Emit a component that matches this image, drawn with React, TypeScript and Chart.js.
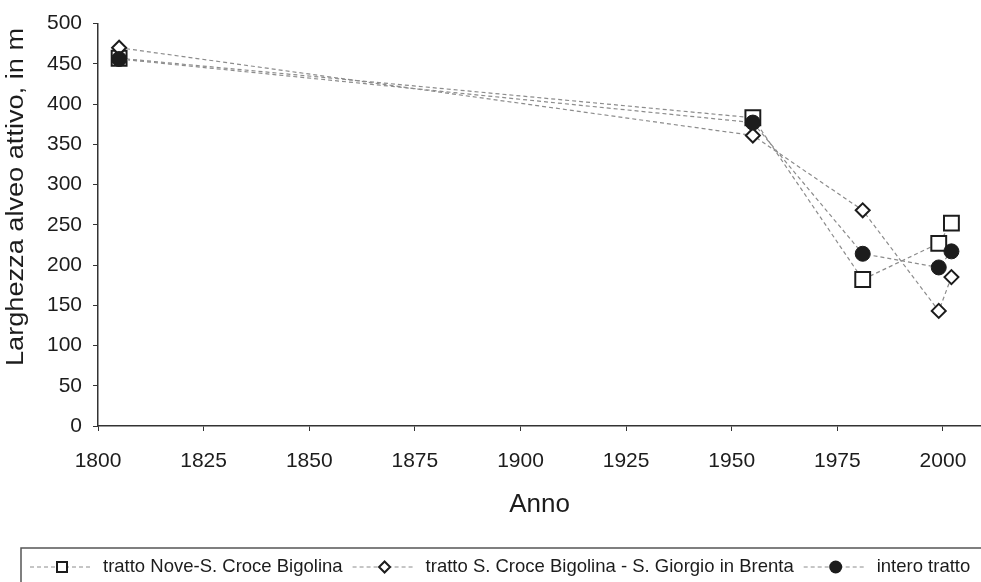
import React, { useEffect, useRef } from 'react';
import { Chart, registerables } from 'chart.js';

Chart.register(...registerables);

// ---- data ----
const years = [1805, 1955, 1981, 1999, 2002];
const trattoNove = [457, 383, 182, 227, 252];
const trattoCroce = [470, 361, 268, 143, 185];
const interoTratto = [456, 377, 214, 197, 217];
const seriesLabels = [
  'tratto Nove-S. Croce Bigolina',
  'tratto S. Croce Bigolina - S. Giorgio in Brenta',
  'intero tratto',
];
const xTicks = [1800, 1825, 1850, 1875, 1900, 1925, 1950, 1975, 2000];
const yTicks = [0, 50, 100, 150, 200, 250, 300, 350, 400, 450, 500];
const xTitle = 'Anno';
const yTitle = 'Larghezza alveo attivo, in m';

const FONT = "'Liberation Sans', Arial, Helvetica, sans-serif";
const LINE_COLOR = '#8c8c8c';
const INK = '#1c1c1c';

const toPoints = (vals: number[]) => years.map((y, i) => ({ x: y, y: vals[i] }));

const yTitlePlugin = {
  id: 'yTitle',
  afterDraw(chart: any) {
    const ctx: CanvasRenderingContext2D = chart.ctx;
    ctx.save();
    ctx.font = `23px ${FONT}`;
    ctx.fillStyle = INK;
    ctx.textAlign = 'center';
    ctx.textBaseline = 'middle';
    const w = ctx.measureText(yTitle).width;
    ctx.translate(17, 197);
    ctx.rotate(-Math.PI / 2);
    ctx.scale(338 / w, 1);
    ctx.fillText(yTitle, 0, 0);
    ctx.restore();
  },
};

const legendPlugin = {
  id: 'boxLegend',
  afterDraw(chart: any) {
    const ctx: CanvasRenderingContext2D = chart.ctx;
    ctx.save();
    ctx.strokeStyle = '#555';
    ctx.lineWidth = 1.5;
    ctx.strokeRect(21, 548, 1000, 60);
    const cy = 567;
    ctx.font = `18.5px ${FONT}`;
    ctx.textBaseline = 'middle';
    ctx.fillStyle = INK;
    let x = 30;
    const styles = ['rect', 'rectRot', 'circle'];
    seriesLabels.forEach((label, i) => {
      ctx.strokeStyle = LINE_COLOR;
      ctx.lineWidth = 1;
      ctx.setLineDash([4, 3]);
      ctx.beginPath();
      ctx.moveTo(x, cy);
      ctx.lineTo(x + 63, cy);
      ctx.stroke();
      ctx.setLineDash([]);
      const mx = x + 32;
      ctx.lineWidth = 2;
      ctx.strokeStyle = INK;
      if (styles[i] === 'rect') {
        ctx.fillStyle = '#fff';
        ctx.fillRect(mx - 5, cy - 5, 10, 10);
        ctx.strokeRect(mx - 5, cy - 5, 10, 10);
      } else if (styles[i] === 'rectRot') {
        ctx.fillStyle = '#fff';
        ctx.beginPath();
        ctx.moveTo(mx, cy - 5.5);
        ctx.lineTo(mx + 5.5, cy);
        ctx.lineTo(mx, cy + 5.5);
        ctx.lineTo(mx - 5.5, cy);
        ctx.closePath();
        ctx.fill();
        ctx.stroke();
      } else {
        ctx.fillStyle = INK;
        ctx.beginPath();
        ctx.arc(mx, cy, 6.5, 0, Math.PI * 2);
        ctx.fill();
      }
      ctx.fillStyle = INK;
      const tx = x + 73;
      ctx.fillText(label, tx, cy);
      x = tx + ctx.measureText(label).width + 10;
    });
    ctx.restore();
  },
};

export default function App() {
  const ref = useRef<HTMLCanvasElement>(null);
  useEffect(() => {
    if (!ref.current) return;
    const common = {
      borderColor: LINE_COLOR,
      borderWidth: 1.2,
      borderDash: [4, 3],
      pointBorderColor: INK,
    };
    const chart = new Chart(ref.current, {
      type: 'line',
      data: {
        datasets: [
          {
            ...common,
            label: seriesLabels[0],
            data: toPoints(trattoNove),
            pointStyle: 'rect',
            pointRadius: 10.5,
            pointBorderWidth: 2,
            pointBackgroundColor: '#ffffff',
            order: 2,
          },
          {
            ...common,
            label: seriesLabels[1],
            data: toPoints(trattoCroce),
            pointStyle: 'rectRot',
            pointRadius: 7,
            pointBorderWidth: 2,
            pointBackgroundColor: '#ffffff',
            order: 1,
          },
          {
            ...common,
            label: seriesLabels[2],
            data: toPoints(interoTratto),
            pointStyle: 'circle',
            pointRadius: 7.5,
            pointBorderWidth: 1,
            pointBackgroundColor: INK,
            order: 0,
          },
        ],
      },
      options: {
        animation: false,
        responsive: false,
        layout: { autoPadding: false, padding: { top: 20, right: 0, bottom: 56, left: 0 } },
        plugins: {
          legend: { display: false },
          tooltip: { enabled: false },
        },
        scales: {
          x: {
            type: 'linear',
            min: 1800,
            max: 2009,
            afterBuildTicks: (scale: any) => {
              scale.ticks = xTicks.map((v) => ({ value: v }));
            },
            afterFit: (scale: any) => {
              scale.height = 100;
              scale.paddingLeft = 0;
              scale.paddingRight = 0;
            },
            grid: {
              drawOnChartArea: false,
              drawTicks: true,
              tickLength: 5,
              color: '#333',
            },
            border: { display: true, color: '#333', width: 1.5 },
            ticks: {
              font: { family: FONT, size: 21 },
              color: INK,
              padding: 18,
              maxRotation: 0,
              autoSkip: false,
              callback: (v: any) => String(v),
            },
            title: {
              display: true,
              text: xTitle,
              font: { family: FONT, size: 26 },
              color: INK,
              padding: { top: 0, bottom: 6 },
            },
          },
          y: {
            type: 'linear',
            min: 0,
            max: 500,
            afterBuildTicks: (scale: any) => {
              scale.ticks = yTicks.map((v) => ({ value: v }));
            },
            afterFit: (scale: any) => {
              scale.width = 98;
            },
            grid: {
              drawOnChartArea: false,
              drawTicks: true,
              tickLength: 5,
              color: '#333',
            },
            border: { display: true, color: '#333', width: 1.5 },
            ticks: {
              font: { family: FONT, size: 21 },
              color: INK,
              padding: 11,
              autoSkip: false,
              callback: (v: any) => String(v),
            },
            title: { display: false },
          },
        },
      },
      plugins: [legendPlugin, yTitlePlugin],
    });
    return () => chart.destroy();
  }, []);
  return (
    <div style={{ position: 'absolute', left: 0, top: 0, width: 981, height: 582, background: '#fff' }}>
      <canvas ref={ref} width={981} height={582} style={{ width: 981, height: 582, display: 'block' }} />
    </div>
  );
}
